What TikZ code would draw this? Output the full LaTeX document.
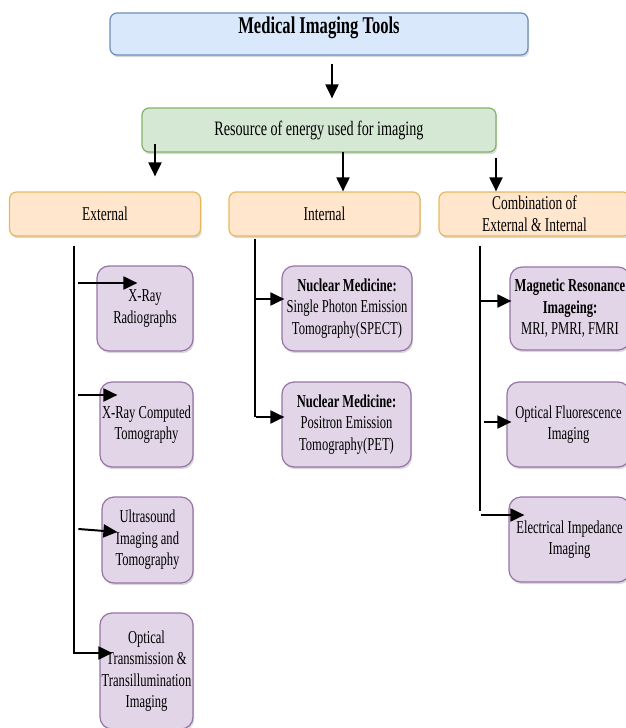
\documentclass[tikz,border=0pt]{standalone}
\usepackage{fontspec}
\setmainfont{Liberation Serif}[FakeStretch=0.69]
\usepackage{tikz}
\usetikzlibrary{arrows.meta,shadows}
\definecolor{mitblue}{HTML}{DAE8FC}
\definecolor{mitbluedk}{HTML}{6C8EBF}
\definecolor{mitgreen}{HTML}{D5E8D4}
\definecolor{mitgreendk}{HTML}{82B366}
\definecolor{mitorange}{HTML}{FFE6CC}
\definecolor{mitorangedk}{HTML}{E8B860}
\definecolor{mitplum}{HTML}{E1D5E7}
\definecolor{mitplumdk}{HTML}{9673A6}

\begin{document}
\begin{tikzpicture}[x=1pt,y=-1pt,
  box/.style={draw,line width=1.2pt,inner sep=1pt,align=center,
    drop shadow={opacity=0.3,shadow xshift=1.2pt,shadow yshift=-2.2pt}},
  topbox/.style={box,rounded corners=7pt,draw=mitbluedk,fill=mitblue},
  resbox/.style={box,rounded corners=7pt,draw=mitgreendk,fill=mitgreen,
    minimum width=354pt,minimum height=44pt,font=\fontsize{20.5}{22}\selectfont},
  catbox/.style={box,rounded corners=7pt,draw=mitorangedk,fill=mitorange,
    minimum width=191pt,minimum height=44pt,font=\fontsize{19.5}{22}\selectfont},
  itembox/.style={box,rounded corners=12pt,draw=mitplumdk,fill=mitplum,
    minimum height=85pt,font=\fontsize{18.2}{21.5}\selectfont},
  arr/.style={-{Triangle[length=14pt,width=13pt]},line width=2pt},
  trunk/.style={line width=1.6pt}]

  \path[use as bounding box,clip] (0,0) rectangle (626,728);

  % top levels
  \node[topbox,minimum width=418pt,text height=16pt,text depth=18pt,inner ysep=4pt,
    font=\bfseries\fontsize{24}{26}\selectfont] (tools) at (319,34) {Medical Imaging Tools};
  \node[resbox] (energy) at (319,130) {Resource of energy used for imaging};
  \node[catbox] (ext) at (105,214) {External};
  \node[catbox] (int) at (324.5,214) {Internal};
  \node[catbox] (comb) at (534.5,214) {Combination of\\External \& Internal};

  % external
  \node[itembox,minimum width=96pt] (xray) at (145,308.5) {X-Ray\\Radiographs};
  \node[itembox,minimum width=93pt] (ct) at (146.5,424.5) {X-Ray Computed\\Tomography};
  \node[itembox,minimum width=91pt,minimum height=86pt] (us) at (147.5,540) {Ultrasound\\Imaging and\\Tomography};
  \node[itembox,minimum width=93pt,minimum height=116pt] (optic) at (146.5,671)
    {Optical\\Transmission \&\\Transillumination\\Imaging};
  % internal
  \node[itembox,minimum width=130pt] (spect) at (347,308.5)
    {\textbf{Nuclear Medicine:}\\Single Photon Emission\\Tomography(SPECT)};
  \node[itembox,minimum width=129pt] (pet) at (346.5,424.5)
    {\textbf{Nuclear Medicine:}\\Positron Emission\\Tomography(PET)};
  % combination
  \node[itembox,minimum width=120pt,minimum height=83pt] (mri) at (570,308.5)
    {\textbf{Magnetic Resonance}\\\textbf{Imageing:}\\MRI, PMRI, FMRI};
  \node[itembox,minimum width=123pt] (fluo) at (568.5,424.5) {Optical Fluorescence\\Imaging};
  \node[itembox,minimum width=121pt] (imped) at (569.5,539.5) {Electrical Impedance\\Imaging};

  % down arrows
  \draw[arr] ([xshift=13pt,yshift=-8pt]tools.south) -- ([xshift=13pt,yshift=9pt]energy.north);
  \draw[arr] ([xshift=-164pt,yshift=9pt]energy.south) -- ([xshift=50pt,yshift=15pt]ext.north);
  \draw[arr] ([xshift=24pt,yshift=1pt]energy.south) -- ([xshift=18.5pt]int.north);
  \draw[arr] ([xshift=177pt,yshift=-5pt]energy.south) -- ([xshift=-38.5pt]comb.north);

  % trunks
  \coordinate (extEnd) at (74,654);
  \coordinate (intEnd) at (255,417);
  \coordinate (combEnd) at (480,511);
  \draw[trunk] ([xshift=-31pt,yshift=-9pt]ext.south) -- (extEnd);
  \draw[trunk] ([xshift=-69.5pt,yshift=-2pt]int.south) -- (intEnd);
  \draw[trunk] ([xshift=-54.5pt,yshift=-9pt]comb.south) -- (combEnd);

  % branches
  \draw[arr] ([xshift=-18pt,yshift=25.5pt]xray.west) -- ([xshift=41pt,yshift=25.5pt]xray.west);
  \draw[arr] ([xshift=-21pt,yshift=29.5pt]ct.west) -- ([xshift=18pt,yshift=29.5pt]ct.west);
  \draw[arr] ([xshift=-23pt,yshift=11pt]us.west) -- ([xshift=16pt,yshift=8pt]us.west);
  \draw[arr] ([xshift=-25pt,yshift=18pt]optic.west) -- ([xshift=13pt,yshift=18pt]optic.west);
  \draw[arr] ([xshift=-27pt,yshift=9.5pt]spect.west) -- ([xshift=3pt,yshift=9.5pt]spect.west);
  \draw[arr] ([xshift=-25pt,yshift=7.5pt]pet.west) -- ([xshift=3pt,yshift=7.5pt]pet.west);
  \draw[arr] ([xshift=-28pt,yshift=7.5pt]mri.west) -- ([xshift=2pt,yshift=7.5pt]mri.west);
  \draw[arr] ([xshift=-22pt,yshift=2.5pt]fluo.west) -- ([xshift=5pt,yshift=2.5pt]fluo.west);
  \draw[arr] ([xshift=-27pt,yshift=24.5pt]imped.west) -- ([xshift=16pt,yshift=24.5pt]imped.west);
\end{tikzpicture}
\end{document}
